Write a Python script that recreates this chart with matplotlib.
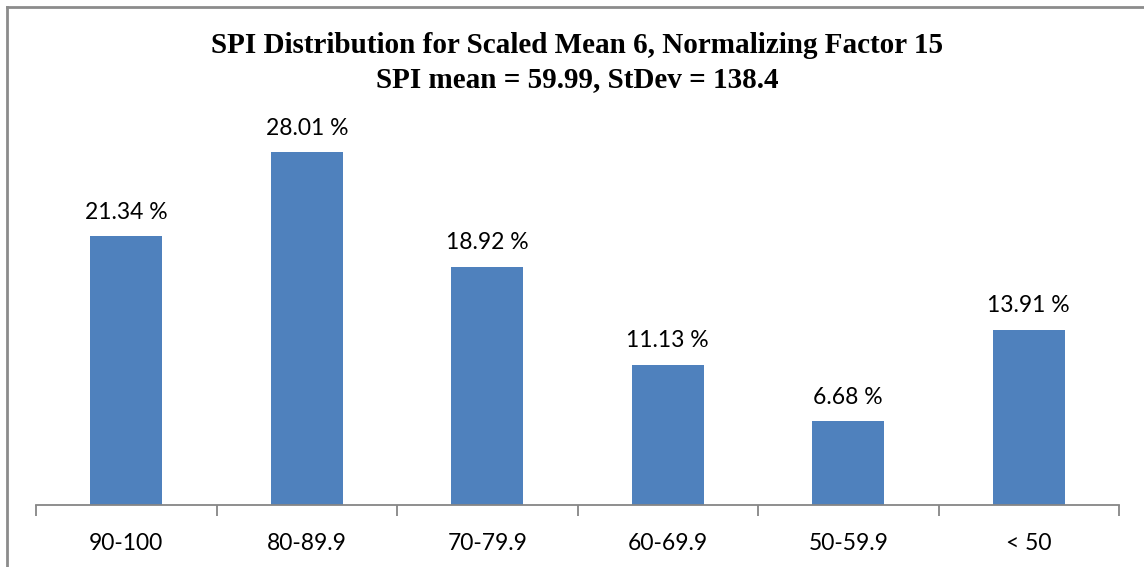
import numpy as np
import matplotlib.pyplot as plt
from matplotlib.lines import Line2D

# SPI bands and share of results in each band (%)
bands = ['90-100', '80-89.9', '70-79.9', '60-69.9', '50-59.9', '< 50']
shares = [21.34, 28.01, 18.92, 11.13, 6.68, 13.91]

title = 'SPI Distribution for Scaled Mean 6, Normalizing Factor 15\nSPI mean = 59.99, StDev = 138.4'

fig = plt.figure(figsize=(11.44, 5.67), dpi=100)
ax = fig.add_axes([0.0315, 0.1093, 0.9467, 0.667])

x = np.arange(len(bands))
ax.bar(x, shares, width=0.4, color='#4F81BD', zorder=2)

for xi, v in zip(x, shares):
    ax.text(xi, v + 1.05, '%.2f %%' % v, ha='center', va='bottom',
            fontsize=16.5, family='Lato', color='#000000')

ax.set_xlim(-0.5, len(bands) - 0.5)
ax.set_ylim(0, 30)

# category labels in the middle, tick marks on the boundaries
ax.set_xticks(x)
ax.set_xticklabels(bands, fontsize=16.5, family='Lato')
ax.tick_params(axis='x', which='major', length=0, pad=20)
ax.set_xticks(np.arange(-0.5, len(bands)), minor=True)
ax.tick_params(axis='x', which='minor', length=8, width=1.3, color='#868686', direction='out')
ax.set_yticks([])

for side in ['top', 'right', 'left']:
    ax.spines[side].set_visible(False)
ax.spines['bottom'].set_color('#868686')
ax.spines['bottom'].set_linewidth(1.3)

fig.text(0.5045, 0.836, title, ha='center', va='bottom', fontsize=21,
         family='Liberation Serif', fontweight='bold', linespacing=1.35)

# outer frame (left and top edges)
fig.add_artist(Line2D([7 / 1144, 7 / 1144], [0, 1 - 7 / 567], transform=fig.transFigure,
                      color='#8c8c8c', lw=2))
fig.add_artist(Line2D([7 / 1144, 1], [1 - 7 / 567, 1 - 7 / 567], transform=fig.transFigure,
                      color='#8c8c8c', lw=2))

fig.savefig('out.png', dpi=100)
